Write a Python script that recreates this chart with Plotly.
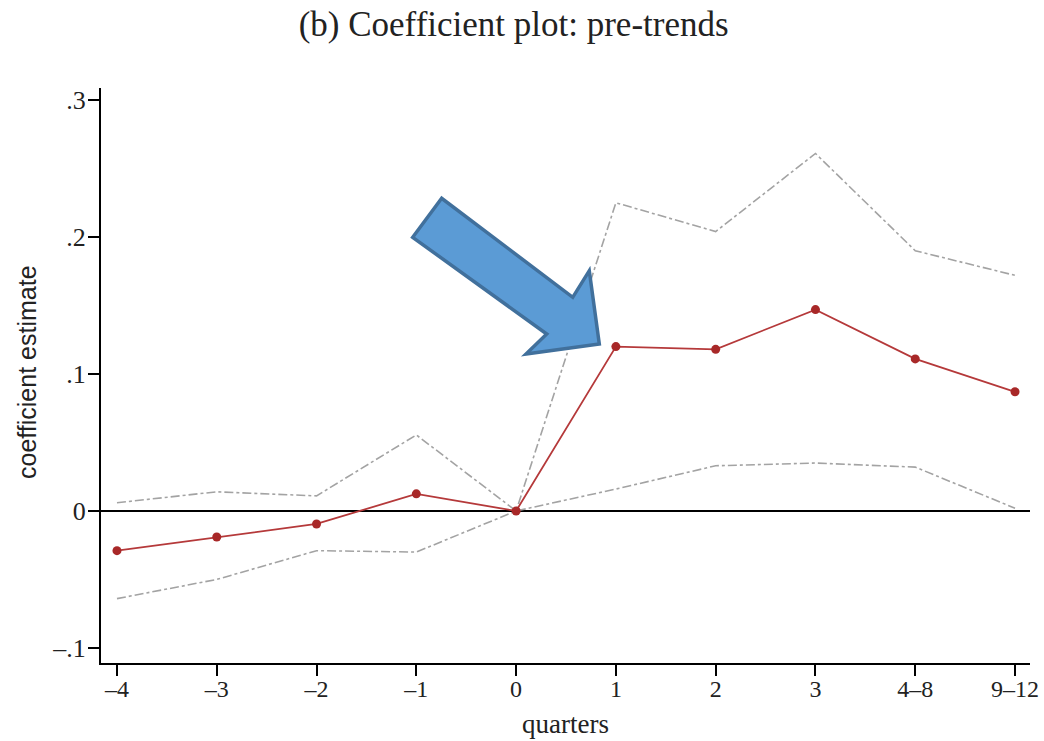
import plotly.graph_objects as go

quarters = ["–4", "–3", "–2", "–1", "0", "1", "2", "3", "4–8", "9–12"]
coef = [-0.029, -0.019, -0.0095, 0.0125, 0.0, 0.120, 0.118, 0.147, 0.111, 0.087]
ci_upper = [0.006, 0.014, 0.011, 0.0555, 0.0, 0.225, 0.204, 0.261, 0.190, 0.172]
ci_lower = [-0.064, -0.050, -0.029, -0.030, 0.0, 0.016, 0.033, 0.035, 0.032, 0.002]
y_tickvals = [-0.1, 0.0, 0.1, 0.2, 0.3]
y_ticktext = ["–.1", "0", ".1", ".2", ".3"]

W, H = 1044, 741
L, R, T, B = 101, 14, 88, 78
PW, PH = W - L - R, H - T - B

xidx = list(range(len(quarters)))
SERIF = "Liberation Serif, Times New Roman, serif"

fig = go.Figure()
for ci in (ci_upper, ci_lower):
    fig.add_trace(go.Scatter(x=xidx, y=ci, mode="lines",
                             line=dict(color="#a3a3a3", width=1.6, dash="dashdot"),
                             showlegend=False, hoverinfo="skip"))
fig.add_trace(go.Scatter(x=xidx, y=coef, mode="lines+markers",
                         line=dict(color="#b5393a", width=1.8),
                         marker=dict(color="#a82828", size=9),
                         showlegend=False))

def px2paper(px, py):
    return (px - L) / PW, (H - B - py) / PH

arrow_px = [(441.7, 198.3), (412.7, 237.3), (546.7, 334.0), (526.0, 354.0),
            (599.3, 344.0), (589.3, 270.7), (572.7, 297.3)]
pts = [px2paper(*p) for p in arrow_px]
path = "M " + " L ".join(f"{x:.4f},{y:.4f}" for x, y in pts) + " Z"
fig.add_shape(type="path", path=path, xref="paper", yref="paper",
              fillcolor="#5b9bd5", line=dict(color="#41709c", width=3.5), layer="above")

# axis titles as annotations for exact placement
xt, _ = px2paper(565, 0)
_, yt = px2paper(0, 372)
xl, _ = px2paper(27, 0)
_, ybot = px2paper(0, 724)
fig.add_annotation(text="quarters", x=xt, y=ybot, xref="paper", yref="paper",
                   showarrow=False, xanchor="center", yanchor="middle",
                   font=dict(size=27, family=SERIF, color="#222"))
fig.add_annotation(text="coefficient estimate", x=xl, y=yt, xref="paper", yref="paper",
                   showarrow=False, xanchor="center", yanchor="middle", textangle=-90,
                   font=dict(size=25, family="Liberation Sans Narrow, Liberation Sans, sans-serif",
                             color="#222"))

fig.update_layout(
    width=W, height=H,
    margin=dict(l=L, r=R, t=T, b=B, autoexpand=False),
    plot_bgcolor="white", paper_bgcolor="white",
    font=dict(family=SERIF, color="black"),
    title=dict(text="(b) Coefficient plot: pre-trends", x=0.492, xanchor="center",
               y=1 - 24 / H, yanchor="middle",
               font=dict(family=SERIF, size=35, color="#222")),
    xaxis=dict(range=[-0.16, 9.15], tickmode="array", tickvals=xidx, ticktext=quarters,
               showline=True, linecolor="black", linewidth=2, ticks="outside",
               ticklen=11, tickwidth=2, tickcolor="black", showgrid=False, zeroline=False,
               ticklabelstandoff=-8,
               tickfont=dict(size=24, family=SERIF, color="#222"), automargin=False),
    yaxis=dict(range=[-0.111, 0.3088], tickmode="array", tickvals=y_tickvals,
               ticktext=y_ticktext, showline=True, linecolor="black", linewidth=2,
               ticks="outside", ticklen=11, tickwidth=2, tickcolor="black",
               showgrid=False, zeroline=True, zerolinecolor="black", zerolinewidth=1.6,
               ticklabelstandoff=-3,
               tickfont=dict(size=26, family=SERIF, color="#222"), automargin=False),
)

fig.write_html("out.html", config={"displayModeBar": False},
               post_script="document.body.style.margin='0';document.body.style.overflow='hidden';")
